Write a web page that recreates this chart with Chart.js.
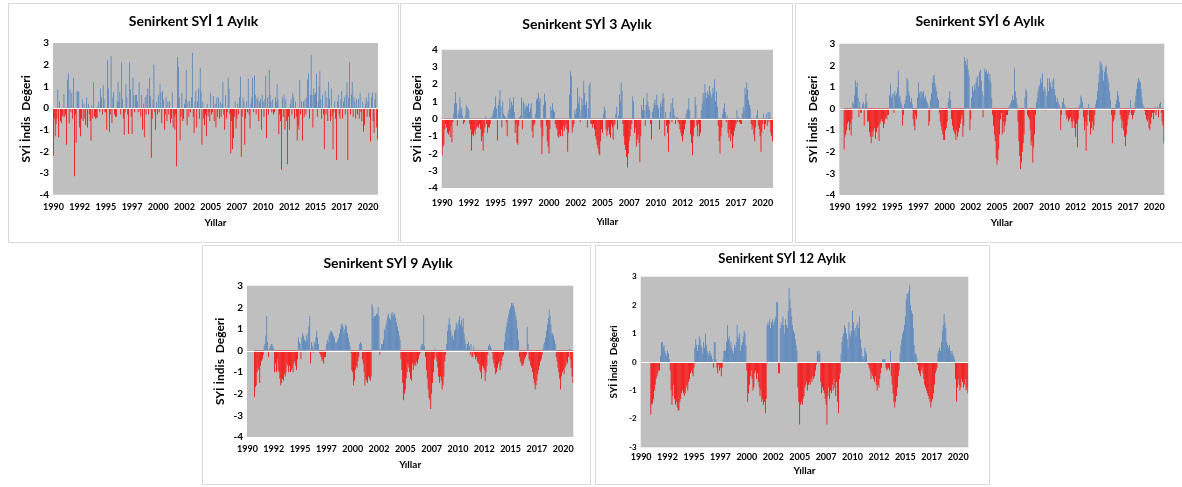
<!DOCTYPE html>
<html lang="tr">
<head>
<meta charset="UTF-8">
<title>Senirkent SYİ</title>
<script src="https://cdn.jsdelivr.net/npm/chart.js"></script>
<style>
  body { margin:0; background:#fff; width:1182px; height:487px; position:relative; overflow:hidden; }
  .panel { position:absolute; border:1px solid #d9d9d9; background:#fff; }
  .panel canvas { display:block; }
</style>
</head>
<body>
<div class="panel" style="left:8px;top:3px;width:389px;height:238px"><canvas id="c1" width="389" height="238"></canvas></div>
<div class="panel" style="left:400px;top:3px;width:391px;height:238px"><canvas id="c3" width="391" height="238"></canvas></div>
<div class="panel" style="left:795px;top:3px;width:386px;height:238px"><canvas id="c6" width="386" height="238"></canvas></div>
<div class="panel" style="left:202px;top:245px;width:387px;height:238px"><canvas id="c9" width="387" height="238"></canvas></div>
<div class="panel" style="left:595px;top:245px;width:393px;height:238px"><canvas id="c12" width="393" height="238"></canvas></div>

<script>
const years = [];
for (let y = 1990; y <= 2020; y++) years.push(y);
const months = [];
years.forEach(y => { for (let m = 1; m <= 12; m++) months.push(y + '-' + String(m).padStart(2, '0')); });

// monthly index values, one row per year (1990 ... 2020)
const spi1 = [
  -2.2,-0.5,-1.3,-0.75,-0.5,0.85,-1.35,0.3,-0.6,-0.7,-0.35,-0.4,
  0.65,-0.4,-0.3,-1.7,1.3,1.6,-0.7,0.85,-0.2,0.7,-0.5,1.4,
  -3.15,-0.3,-1.6,0.8,0.75,0.75,-0.9,-1.3,-0.5,0.4,-0.6,0.2,
  -0.5,-0.8,0.5,-0.9,0.2,-0.3,-0.6,-1.5,0.1,-0.5,1.2,-0.4,
  -0.5,-0.45,-0.45,0.1,0.3,-0.2,0.9,0.5,-0.3,1.05,0.4,-0.2,
  -0.2,-1.0,2.2,0.9,-1.1,-0.3,2.4,-0.7,0.5,0.75,-0.3,-0.4,
  -0.4,0.3,1.2,0.3,0.75,-0.3,2.1,0.4,-0.5,-1.25,-0.2,1.1,
  0.5,-0.3,-1.2,2.1,0.85,-0.4,-1.2,1.4,0.6,-0.2,0.6,0.6,
  0.3,-0.2,1.2,-0.1,-0.4,0.6,-1.0,0.2,-1.35,0.5,-0.3,0.6,
  0.9,-0.3,1.4,0.55,-2.3,-0.5,0.4,2.0,-0.2,-1.0,0.3,-0.3,
  0.6,-0.2,1.1,0.7,-0.7,0.8,0.4,-1.0,-0.3,0.5,-0.6,0.3,
  -0.3,0.3,-0.7,-0.5,0.7,-0.9,-0.4,-1.0,-0.3,-2.7,2.35,1.9,
  0.5,-1.5,-0.4,0.7,-0.6,-0.5,0.2,0.4,1.75,-0.8,0.3,-0.4,
  0.3,-0.2,0.5,2.55,-0.4,-1.15,0.3,0.8,-0.9,0.3,0.9,-0.5,
  1.85,0.75,-1.7,0.3,-0.5,-0.8,-0.3,-1.3,0.2,-0.4,-0.2,-0.6,
  0.7,-0.3,-0.2,0.55,-0.6,0.2,-0.9,0.5,-0.4,0.5,-0.5,0.3,
  -0.4,0.2,1.2,-0.3,-1.0,0.6,-0.5,-0.2,1.4,0.9,-0.3,-2.1,
  -0.6,-1.9,-1.4,-0.4,0.3,-0.95,-0.5,0.2,-0.3,0.5,1.45,-2.25,
  -0.4,0.5,0.3,-1.7,-0.5,0.3,-0.2,1.35,-0.3,-0.95,0.2,0.5,
  1.4,-0.2,1.5,0.6,-0.3,0.4,0.5,-0.6,0.3,0.4,-1.0,0.6,
  0.3,-0.4,0.4,1.5,-1.4,0.5,-0.3,1.75,0.6,0.3,-0.2,0.4,
  -0.3,-0.2,0.5,0.3,1.1,0.4,-1.2,-0.3,-0.6,-2.85,0.5,-0.4,
  0.6,-1.0,0.4,-0.6,-2.6,-0.4,-1.0,0.2,0.4,-0.3,0.7,0.5,
  -0.5,0.3,-0.4,-1.5,-0.8,-1.0,1.3,-0.3,0.3,-1.5,0.3,-0.4,
  0.4,-0.3,0.5,1.3,1.6,-0.5,0.6,2.45,0.6,-0.9,0.9,0.6,
  0.7,1.6,-0.4,0.3,1.0,1.7,0.4,-0.5,0.6,-0.3,-1.9,0.8,
  -0.3,0.5,-0.6,1.2,0.4,-0.6,0.9,-0.4,-1.9,-0.2,0.3,-0.5,
  -2.4,0.3,0.6,-0.3,-0.5,0.4,0.8,-0.5,0.3,0.5,-0.3,0.6,
  1.2,-2.4,0.5,2.1,-0.3,0.6,1.2,-0.4,0.5,0.3,-0.5,0.4,
  -0.3,0.4,-0.5,0.7,-0.2,-0.6,0.3,-1.1,-0.8,0.2,0.5,-0.4,
  0.3,0.7,-0.4,-1.55,0.5,0.7,-0.6,-1.15,0.4,0.7,-0.9,-1.45
];
const spi3 = [
  -2.1,-1.6,-1.5,-0.6,-0.3,-0.5,-0.8,-0.9,-0.7,-1.05,-0.4,-1.35,
  -0.2,0.3,0.9,1.55,0.9,-0.4,0.3,0.5,1.25,0.7,0.6,0.2,
  -0.3,-0.2,0.2,0.8,0.7,0.6,0.5,-0.3,-0.6,-1.85,-0.9,-1.0,
  -0.7,-0.9,-0.6,-0.5,-0.4,-0.5,-0.3,-0.6,-1.3,-1.0,-1.85,-0.8,
  -0.5,0.15,-0.3,-0.8,-0.5,-0.5,-0.3,0.1,0.1,0.3,0.5,0.7,
  1.3,0.6,-1.25,0.8,1.1,1.65,0.7,-0.5,1.0,0.3,0.2,0.1,
  -0.2,-1.0,0.3,0.5,1.2,0.6,1.0,0.8,1.25,0.4,-0.8,-0.3,
  -1.4,-1.5,-0.4,0.1,0.2,1.25,-0.6,1.0,0.9,0.5,0.7,0.8,
  0.7,0.9,0.4,0.6,0.9,-0.7,-1.1,-0.4,-0.3,0.3,1.1,1.2,
  1.5,1.0,1.2,-0.5,-2.05,-1.0,0.8,1.45,1.0,-0.4,-1.3,-1.6,
  -2.0,-0.6,0.7,0.5,0.9,0.5,0.4,-0.3,-0.5,-0.6,-1.0,-1.1,
  -0.9,-1.0,-0.6,-1.0,-0.4,-0.7,-0.5,-0.3,-0.6,-1.9,-0.8,1.4,
  2.75,2.5,-0.8,-0.5,-0.3,0.5,0.3,0.6,1.8,0.9,1.3,-0.2,
  0.5,1.2,0.8,2.2,1.5,0.8,1.0,-0.5,0.6,1.9,2.1,-0.3,
  -0.3,-0.5,-0.3,-0.6,-1.0,-1.2,-1.5,-1.7,-2.0,-2.1,-1.3,-0.6,
  -0.8,0.3,0.7,0.5,-0.6,-1.0,-0.7,-0.5,-0.9,-1.1,-0.3,-0.5,
  -1.2,-0.4,-0.3,0.3,0.7,-0.6,0.2,1.4,1.0,2.1,1.6,-0.3,
  -1.0,-1.5,-1.8,-2.2,-2.8,-2.0,-1.3,-1.0,-0.6,-0.3,1.3,1.0,
  -0.8,-0.5,-1.6,-1.2,-0.9,-1.4,-2.5,-1.0,0.8,0.5,1.2,0.5,
  -0.4,0.8,1.5,1.0,0.7,0.5,-0.3,-1.2,0.4,0.6,0.9,1.1,
  0.8,1.4,0.8,0.6,-0.6,0.9,0.7,1.1,1.5,1.2,-1.0,0.4,
  -0.4,-0.8,-1.9,-0.3,0.4,0.9,-0.2,1.2,0.6,0.2,-0.3,0.1,
  0.1,-0.2,-0.3,-0.6,-0.8,-1.0,-1.3,-0.9,-0.6,-0.3,0.3,0.5,
  0.6,1.2,0.5,-0.9,-1.4,-2.1,-1.0,-0.5,1.25,0.8,-0.4,-1.0,
  -0.3,-1.0,-0.8,0.5,0.9,1.5,1.1,2.0,1.5,1.2,1.6,1.4,
  1.9,1.6,1.2,1.4,1.8,1.5,2.3,1.0,1.6,0.7,-0.4,-1.3,
  -2.0,-1.0,-0.5,0.3,0.6,0.9,0.4,-0.2,0.2,-0.8,-1.1,-0.6,
  -1.3,-0.9,-1.7,-1.0,-0.7,-0.5,-0.3,0.5,-0.2,0.1,-0.2,-0.3,
  -0.3,0.3,0.7,0.5,1.8,1.4,2.1,1.7,1.1,0.8,0.6,-0.3,
  -0.6,-0.4,-0.9,-1.3,-0.5,0.2,0.5,-0.4,-0.6,-1.0,-1.9,-0.8,
  -0.3,0.3,-0.6,-0.3,0.3,-0.4,0.4,-0.2,0.4,-0.8,-1.0,-1.3
];
const spi6 = [
  null,null,null,null,null,-1.9,-1.3,-1.2,-1.0,-0.7,-0.6,-1.0,
  -0.7,-1.25,-0.5,0.3,0.2,0.6,1.3,1.0,1.2,0.5,-0.4,0.3,
  -0.2,-0.2,0.2,0.3,-0.8,0.2,0.7,0.3,-0.6,-0.6,-1.1,-1.3,
  -1.6,-1.1,-1.3,-1.0,-0.9,-1.4,-1.1,-0.9,-0.8,-1.5,-0.7,-0.6,
  -0.5,-0.6,-0.9,-0.7,-0.5,-0.4,-0.5,-0.3,-0.3,0.6,1.15,0.5,
  0.6,0.7,-0.2,0.8,0.6,0.7,1.0,1.75,0.5,0.6,0.3,0.2,
  -0.8,-0.3,0.2,0.4,0.6,1.4,1.3,0.8,0.6,0.3,0.5,0.2,
  -0.5,-0.8,-1.0,-0.3,-0.5,0.5,1.2,0.7,0.8,0.5,0.8,0.7,
  0.8,0.5,0.6,0.4,0.3,0.2,-0.8,-0.6,0.4,0.7,1.2,1.5,
  1.55,1.2,1.0,0.8,0.5,0.4,-0.2,-0.6,-0.8,-1.0,-1.2,-1.45,
  -1.45,-1.0,-0.9,-0.6,0.3,0.5,0.8,0.4,-0.5,-0.8,-1.0,-1.1,
  -1.2,-1.45,-1.0,-1.3,-1.1,-0.9,-0.7,-0.5,-0.3,-1.3,-0.8,2.4,
  2.2,2.0,2.3,1.8,1.5,-1.0,-0.5,0.5,1.0,0.8,1.1,0.9,
  1.2,1.4,1.5,1.0,1.7,1.8,1.3,0.8,-0.4,0.6,1.85,1.7,
  1.8,1.6,1.7,1.3,1.6,1.2,0.5,-0.3,-0.8,-1.2,-1.5,-2.3,
  -2.6,-2.4,-1.9,-1.2,-0.5,-0.2,-1.2,-0.6,-1.1,-0.8,-0.6,-0.3,
  -0.3,-0.1,0.1,0.2,0.3,0.4,0.6,0.4,1.85,0.8,0.5,0.2,
  -0.6,-1.5,-2.2,-2.8,-2.5,-2.0,-1.6,-1.2,0.5,0.9,0.8,-0.3,
  -0.4,-0.5,-1.0,-1.7,-1.5,-2.5,-1.8,-1.2,-0.3,0.3,0.5,0.8,
  1.0,1.1,1.4,1.2,1.65,0.8,1.0,0.9,-0.1,0.6,1.4,0.8,
  1.4,1.2,1.0,0.9,1.3,1.4,0.9,0.6,0.3,0.5,0.3,0.2,
  0.1,-1.0,-0.3,0.3,0.5,0.2,0.1,-0.3,-0.5,-0.4,-0.6,-0.5,
  -0.4,-0.6,-0.9,-0.6,-0.5,-0.9,-1.3,-0.7,-1.8,-0.5,0.1,0.2,
  0.6,0.5,0.3,-0.4,-1.0,-0.6,-1.95,-0.8,-0.3,0.2,-0.6,-1.2,
  -0.9,-0.6,-1.0,-0.8,-0.3,0.2,0.4,0.8,1.2,1.6,2.2,2.0,
  2.1,1.8,1.3,1.7,1.9,2.0,1.6,1.4,1.2,0.8,0.4,-0.3,
  -1.6,-0.6,-0.5,-0.3,0.2,0.4,0.8,0.6,0.3,-0.3,-0.5,-0.9,
  -0.6,-1.0,-1.3,-1.75,-1.2,-0.8,-0.5,-0.3,-0.2,0.4,-0.3,-0.5,
  -0.3,-0.2,0.3,0.6,0.9,1.2,1.4,1.3,1.2,0.9,0.5,0.2,
  0.1,-0.1,-0.3,-0.5,-0.6,-0.5,-0.9,-1.0,-0.7,-0.4,-0.2,-0.5,
  -0.2,0.1,-0.3,-0.1,0.1,-0.4,0.2,0.3,-0.2,-0.6,-0.8,-1.6
];
const spi9 = [
  null,null,null,null,null,null,null,null,-2.15,-1.7,-1.6,-1.0,
  -0.8,-0.9,-1.5,-0.7,-0.5,-0.4,-0.2,0.2,0.3,0.7,1.6,0.4,
  -0.3,0.1,0.2,0.3,0.3,0.2,0.1,-1.0,-0.6,-1.0,-0.4,-0.9,
  -1.0,-1.3,-1.6,-1.5,-1.3,-1.4,-1.1,-1.2,-1.0,-0.6,-0.7,-1.0,
  -0.7,-1.0,-0.9,-0.8,-1.0,-0.6,-0.5,-0.7,-0.9,-0.4,0.6,0.4,
  0.3,-0.4,0.6,0.8,0.7,0.5,0.4,0.7,0.5,0.8,1.1,1.6,
  -0.6,0.4,0.2,-0.1,0.4,0.3,0.6,0.9,0.6,0.3,-0.1,-0.2,
  -0.3,-0.5,-0.4,-0.6,-0.3,-0.3,0.3,0.5,0.4,0.7,0.8,0.9,
  0.9,0.8,0.7,0.6,0.4,0.3,0.4,0.5,0.6,0.8,1.0,1.2,
  1.25,1.1,0.8,1.0,1.2,1.1,0.8,0.6,0.4,0.2,-0.1,-0.9,
  -1.0,-1.6,-1.4,-0.9,-0.7,-0.8,-0.5,-0.3,0.3,0.4,0.3,-0.4,
  -0.6,-1.0,-1.6,-1.3,-1.4,-1.5,-1.2,-1.3,-1.4,-1.2,2.15,2.0,
  1.5,1.6,1.6,1.7,1.7,2.0,1.6,-0.2,0.1,0.3,0.3,0.5,
  1.0,0.9,1.2,1.4,1.6,1.7,1.5,1.4,1.7,1.8,1.6,1.7,
  1.7,1.5,1.3,1.1,0.9,0.7,0.5,-0.4,-0.9,-1.5,-2.3,-2.0,
  -1.8,-1.3,-1.0,-0.6,-0.8,-1.0,-1.3,-1.4,-0.6,-0.9,-0.7,-0.6,
  -0.7,-0.5,-0.6,-0.4,-0.2,-0.1,0.2,0.3,0.3,1.65,0.2,-0.3,
  -0.9,-1.3,-1.8,-2.2,-2.3,-2.7,-2.0,-1.5,-1.0,-0.4,0.1,-0.3,
  -0.5,-0.8,-1.2,-1.5,-1.2,-1.4,-1.8,-1.6,-1.2,-0.5,-0.2,0.3,
  0.9,1.2,1.5,1.2,0.9,0.6,0.7,0.5,0.9,1.0,1.3,1.2,
  1.0,1.4,1.6,1.2,1.4,1.1,1.5,0.8,0.5,0.3,0.1,0.3,
  0.4,0.2,-0.2,0.3,-0.3,-0.3,0.2,-0.2,-0.4,-0.3,-0.5,-0.6,
  -0.6,-0.9,-1.0,-1.3,-0.7,-0.8,-0.9,-1.4,-1.0,-0.7,-0.2,0.2,
  0.3,0.2,0.1,-0.1,-0.4,-0.6,-0.8,-1.1,-1.0,-0.8,-0.6,-0.5,
  -0.9,-0.7,-0.5,-0.3,-0.2,0.4,0.8,1.1,1.3,1.5,1.7,1.9,
  2.0,2.2,2.1,2.2,2.0,1.8,1.6,1.4,1.0,0.5,-0.3,-0.5,
  -0.6,-0.7,-0.7,-0.6,-0.4,-0.3,-0.2,1.1,0.3,-0.4,-0.5,-0.7,
  -0.8,-1.0,-1.3,-1.5,-1.8,-1.6,-1.4,-1.1,-0.9,-0.7,-0.5,-0.4,
  -0.2,0.1,0.3,0.4,0.6,0.9,1.2,1.5,1.9,1.6,1.2,0.8,
  0.8,0.7,0.5,0.3,-0.3,-0.5,-0.8,-1.0,-1.3,-1.8,-1.2,-1.0,
  -0.9,-1.1,-0.8,-0.7,-0.5,-0.6,-0.3,0.1,-0.4,-0.8,-1.2,-1.5
];
const spi12 = [
  null,null,null,null,null,null,null,null,null,null,null,-1.85,
  -1.5,-1.45,-1.3,-1.0,-0.8,-0.6,-0.5,-0.4,-0.3,-0.3,0.2,0.7,
  0.7,0.5,0.6,0.4,0.3,0.2,0.4,0.3,0.1,-0.3,-1.0,-1.5,
  -1.2,-0.8,-1.3,-1.5,-1.4,-1.6,-1.7,-1.7,-1.4,-1.3,-1.1,-1.0,
  -1.1,-1.2,-1.1,-0.9,-0.8,-1.0,-0.7,-0.6,-0.4,-0.3,-0.4,-0.5,
  -0.2,0.5,0.8,0.6,0.4,0.6,0.9,0.8,0.6,0.5,0.3,0.7,
  0.5,1.0,0.6,0.4,0.3,0.2,0.4,0.3,0.2,0.1,-0.2,0.7,
  0.7,0.1,-0.2,-0.4,-0.1,-0.3,-0.2,-0.5,-0.2,0.1,0.4,0.4,
  0.4,0.7,1.3,0.8,0.9,0.6,0.7,0.5,0.4,0.3,0.6,0.5,
  0.7,1.3,0.9,0.8,1.0,0.4,0.6,0.7,0.9,1.1,1.0,0.6,
  -0.3,-1.4,-1.1,-0.8,-0.5,-0.3,-0.6,-1.0,-0.9,-0.4,-0.3,-0.6,
  -0.4,-0.7,-0.9,-1.2,-1.0,-1.4,-1.3,-1.5,-1.4,-1.8,-1.3,1.3,
  1.4,1.3,1.5,1.2,1.4,1.5,1.3,1.4,1.5,1.6,2.1,2.1,
  -0.4,-0.4,1.2,1.4,1.3,1.6,1.3,1.0,1.5,1.3,1.2,1.8,
  2.6,2.2,1.9,1.6,1.3,1.1,1.0,0.8,0.6,0.4,-0.9,-1.4,
  -2.2,-1.5,-1.4,-1.5,-1.3,-1.2,-0.9,-0.8,-0.7,-1.0,-0.8,-0.7,
  -0.8,-0.6,-0.7,-0.5,-0.6,-0.5,-0.3,-0.1,0.4,0.3,0.4,0.3,
  -0.7,-1.1,-0.9,-1.0,-1.1,-1.3,-1.5,-2.2,-1.2,-0.9,-1.3,-1.0,
  -1.1,-0.8,-1.0,-0.6,-0.9,-1.2,-0.7,-1.4,-1.8,-0.6,-0.4,0.3,
  0.7,0.9,1.0,1.3,1.2,1.0,0.8,0.5,1.4,1.0,0.9,1.1,
  1.8,1.4,1.1,1.2,0.9,1.3,1.4,1.2,1.6,0.8,0.5,0.2,
  0.1,0.2,0.5,0.4,0.3,-0.05,-0.1,-0.2,-0.3,-0.6,-0.4,-0.5,
  -0.6,-0.7,-0.5,-0.8,-1.0,-0.8,-0.9,-0.6,-0.4,-0.2,0.1,0.1,
  0.1,0.1,-0.2,-0.3,-0.25,-0.2,-0.3,0.4,-0.5,-0.8,-1.1,-1.4,
  -1.6,-1.4,-1.2,-0.9,-0.5,-0.3,0.3,0.6,0.8,1.0,1.1,1.3,
  1.6,2.2,2.4,2.4,2.5,2.7,2.0,1.8,1.7,1.2,0.6,0.3,
  0.3,0.2,-0.1,-0.3,-0.4,-0.5,-0.3,-0.2,-0.4,-0.6,-0.8,-0.9,
  -1.0,-1.1,-1.2,-1.3,-1.4,-1.6,-1.4,-1.3,-1.1,-0.8,-0.4,-0.3,
  -0.2,0.3,0.4,0.5,0.4,0.7,1.1,1.3,1.7,1.4,1.2,0.7,
  0.6,0.5,0.6,0.4,0.3,0.4,0.3,0.2,0.1,-0.6,-1.4,-0.9,
  -0.6,-0.8,-1.0,-0.9,-0.6,-0.7,-0.9,-0.8,-0.6,-1.0,-0.9,-1.1
];

const FONT = 'Lato, "Open Sans", sans-serif';
const POS = '#4f81bd';
const NEG = '#ff0000';

// gray plot area and white zero line, like the Excel chart
const plotBg = {
  id: 'plotBg',
  beforeDraw(chart) {
    const a = chart.chartArea, c = chart.ctx;
    c.save();
    c.fillStyle = '#bfbfbf';
    c.fillRect(a.left, a.top, a.right - a.left, a.bottom - a.top);
    c.restore();
  },
  afterDatasetsDraw(chart) {
    const a = chart.chartArea, c = chart.ctx;
    const y0 = Math.round(chart.scales.y.getPixelForValue(0)) + 0.5;
    c.save();
    c.strokeStyle = '#ffffff';
    c.lineWidth = 1;
    c.beginPath(); c.moveTo(a.left, y0); c.lineTo(a.right, y0); c.stroke();
    c.restore();
  }
};

function drawPanel(id, title, values, yMin, yMax, p) {
  new Chart(document.getElementById(id), {
    type: 'bar',
    data: {
      labels: months,
      datasets: [{
        data: values,
        backgroundColor: values.map(v => v >= 0 ? POS : NEG),
        barPercentage: 1,
        categoryPercentage: 0.9
      }]
    },
    options: {
      responsive: false,
      animation: false,
      layout: { padding: { left: 0, right: p.right, top: 0, bottom: 0 } },
      plugins: {
        legend: { display: false },
        tooltip: { enabled: false },
        title: {
          display: true, text: title, color: '#000',
          font: { family: FONT, size: p.titleSize, weight: 'bold' },
          padding: { top: p.titleTop, bottom: p.titleBottom }
        }
      },
      scales: {
        x: {
          grid: { display: false, drawTicks: false },
          border: { display: false },
          ticks: {
            autoSkip: false, maxRotation: 0, minRotation: 0, padding: p.xTickPad,
            color: '#000', font: { family: FONT, size: p.xTickSize, weight: 'bold' },
            callback: (v, i) => i % 30 === 0 ? months[i].slice(0, 4) : ''
          },
          title: {
            display: true, text: 'Yıllar', color: '#000',
            font: { family: FONT, size: 10, weight: 'bold' },
            padding: { top: 0, bottom: p.xTitlePad }
          },
          afterFit: s => { s.height = p.xH; }
        },
        y: {
          min: yMin, max: yMax,
          grid: { display: false, drawTicks: false },
          border: { display: false },
          ticks: {
            stepSize: 1, padding: 4, color: '#000',
            font: { family: FONT, size: p.yTickSize, weight: 'bold' }
          },
          title: {
            display: true, text: 'SYİ İndis  Değeri', color: '#000',
            font: { family: FONT, size: p.yTitleSize, weight: 'bold' },
            padding: { top: p.yTitlePad, bottom: 0 }
          },
          afterFit: s => { s.width = p.yW; }
        }
      }
    },
    plugins: [plotBg]
  });
}

drawPanel('c1', 'Senirkent SYİ 1 Aylık', spi1, -4, 3,
  { right: 20, yW: 44, xH: 47.3, titleSize: 14, titleTop: 8.6, titleBottom: 13.6,
    xTickSize: 9, xTickPad: 7, xTitlePad: 13, yTickSize: 10, yTitleSize: 12, yTitlePad: 9.8 });
drawPanel('c3', 'Senirkent SYİ 3 Aylık', spi3, -4, 4,
  { right: 19, yW: 40.7, xH: 54, titleSize: 14, titleTop: 11.6, titleBottom: 17.3,
    xTickSize: 9, xTickPad: 9.6, xTitlePad: 14, yTickSize: 10, yTitleSize: 12, yTitlePad: 8.8 });
drawPanel('c6', 'Senirkent SYİ 6 Aylık', spi6, -4, 3,
  { right: 17.7, yW: 43.3, xH: 47, titleSize: 14, titleTop: 8.6, titleBottom: 14.3,
    xTickSize: 9, xTickPad: 6.6, xTitlePad: 13, yTickSize: 10, yTitleSize: 12, yTitlePad: 9.8 });
drawPanel('c9', 'Senirkent SYİ 9 Aylık', spi9, -4, 3,
  { right: 16.7, yW: 44, xH: 47, titleSize: 14, titleTop: 8.6, titleBottom: 14.3,
    xTickSize: 9, xTickPad: 6.6, xTitlePad: 13, yTickSize: 10, yTitleSize: 12, yTitlePad: 9.8 });
drawPanel('c12', 'Senirkent SYİ 12 Aylık', spi12, -3, 3,
  { right: 20.7, yW: 44.7, xH: 36.7, titleSize: 13, titleTop: 5.2, titleBottom: 9.9,
    xTickSize: 9, xTickPad: 4.3, xTitlePad: 7.3, yTickSize: 8, yTitleSize: 10, yTitlePad: 11.7 });
</script>
</body>
</html>
